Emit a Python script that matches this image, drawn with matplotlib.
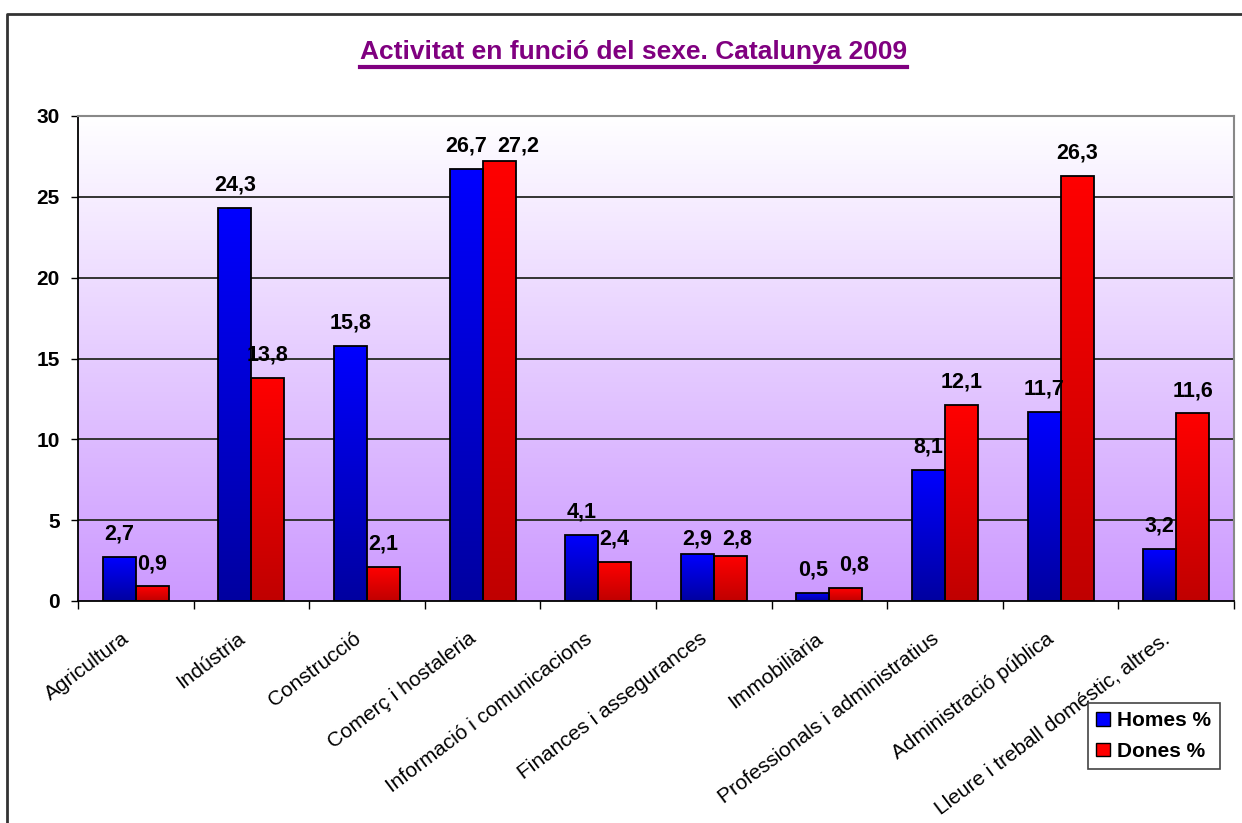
import numpy as np
import matplotlib
matplotlib.use("Agg")
import matplotlib.pyplot as plt
from matplotlib.lines import Line2D
from matplotlib.patches import Patch
from matplotlib.colors import LinearSegmentedColormap

plt.rcParams['font.family'] = ['Liberation Sans', 'DejaVu Sans']

categories = ["Agricultura", "Indústria", "Construcció", "Comerç i hostaleria",
              "Informació i comunicacions", "Finances i assegurances", "Immobiliària",
              "Professionals i administratius", "Administració pública",
              "Lleure i treball doméstic, altres."]
homes = [2.7, 24.3, 15.8, 26.7, 4.1, 2.9, 0.5, 8.1, 11.7, 3.2]
dones = [0.9, 13.8, 2.1, 27.2, 2.4, 2.8, 0.8, 12.1, 26.3, 11.6]
series_names = ["Homes %", "Dones %"]
title = "Activitat en funció del sexe. Catalunya 2009"

fig = plt.figure(figsize=(12.42, 8.23), dpi=100, facecolor="white")
ax = fig.add_axes([78/1242, 222/823, 1156/1242, 485/823])

# background gradient, white on top to lavender at bottom
bg = LinearSegmentedColormap.from_list("bg", ["#cc99ff", "#ffffff"])
grad = np.linspace(0, 1, 256).reshape(-1, 1)
ax.imshow(grad, cmap=bg, origin="lower", extent=[0, 1, 0, 1],
          transform=ax.transAxes, aspect="auto", zorder=0)

blue_cm = LinearSegmentedColormap.from_list("b", ["#0000a0", "#0000ff"])
red_cm = LinearSegmentedColormap.from_list("r", ["#c00000", "#ff0000"])

x = np.arange(len(categories))
w = 0.285

def fmt(v):
    return f"{v:.1f}".replace(".", ",")

for vals, off, cm in [(homes, -w/2, blue_cm), (dones, w/2, red_cm)]:
    bars = ax.bar(x + off, vals, width=w, color="none", edgecolor="black",
                  linewidth=1.3, zorder=3)
    for b, v in zip(bars, vals):
        x0 = b.get_x()
        img = ax.imshow(grad, cmap=cm, origin="lower", aspect="auto",
                        extent=[x0, x0 + w, 0, v], zorder=2.5)
        img.set_clip_path(b)

# value labels; when the two bars of a group are almost equal the labels
# sit on one line and the red one is nudged right so they don't collide
for i, (h, d) in enumerate(zip(homes, dones)):
    if abs(h - d) < 1.0 and min(h, d) > 1:
        yh = yd = max(h, d)
        dy = 11
        shift = 5 if max(h, d) < 10 else 14
    else:
        yh, yd, dy = h, d, 16.5
        shift = 6 if max(h, d) < 1 else 0
    ax.annotate(fmt(h), (i - w/2, yh), xytext=(0, dy), textcoords="offset points",
                ha="center", va="center", fontsize=15.5, fontweight="bold", zorder=5)
    ax.annotate(fmt(d), (i + w/2, yd), xytext=(shift, dy), textcoords="offset points",
                ha="center", va="center", fontsize=15.5, fontweight="bold", zorder=5)

ax.set_xlim(-0.5, len(categories) - 0.5)
ax.set_ylim(0, 30)
ax.set_yticks(range(0, 31, 5))
ax.set_yticklabels([str(v) for v in range(0, 31, 5)], fontsize=15, fontweight="bold")
ax.tick_params(axis="y", direction="out", length=5, width=1, pad=8)
ax.set_xticks(np.arange(-0.5, len(categories), 1))
ax.set_xticklabels([])
ax.tick_params(axis="x", direction="out", length=6, width=1)

for yv in range(5, 30, 5):
    ax.axhline(yv, color="#333333", linewidth=1.4, zorder=1)

ax.spines["left"].set_color("black")
ax.spines["bottom"].set_color("black")
ax.spines["left"].set_linewidth(1.3)
ax.spines["bottom"].set_linewidth(1.3)
ax.spines["top"].set_color("#888888")
ax.spines["right"].set_color("#888888")
ax.spines["top"].set_linewidth(1.5)
ax.spines["right"].set_linewidth(1.5)

for i, lab in enumerate(categories):
    ax.text(i - 0.125, -0.058, lab, transform=ax.get_xaxis_transform(),
            rotation=37, rotation_mode="anchor", ha="right", va="top",
            fontsize=15)

handles = [Patch(facecolor="#0000ff", edgecolor="black", label=series_names[0]),
           Patch(facecolor="#ff0000", edgecolor="black", label=series_names[1])]
leg = fig.legend(handles=handles, loc="upper left",
                 bbox_to_anchor=(1088/1242, 1 - 703/823), borderaxespad=0,
                 fancybox=False, framealpha=1, edgecolor="#444444",
                 prop={"weight": "bold", "size": 15}, handlelength=0.65,
                 handleheight=0.65, handletextpad=0.35, borderpad=0.4,
                 labelspacing=0.55)
leg.get_frame().set_linewidth(1.2)

t = fig.text(0.51, 1 - 52/823, title, ha="center", va="center", fontsize=19,
             fontweight="bold", color="#800080")

# underline the title
fig.canvas.draw()
bb = t.get_window_extent(fig.canvas.get_renderer())
uy = (bb.y0 - 3) / fig.bbox.height
fig.add_artist(Line2D([bb.x0 / fig.bbox.width, bb.x1 / fig.bbox.width], [uy, uy],
                      color="#800080", linewidth=3, transform=fig.transFigure))

# outer chart frame (left and top)
fig.add_artist(Line2D([7/1242, 7/1242, 1.0], [0.0, 1 - 14/823, 1 - 14/823],
                      color="#333333", linewidth=2, transform=fig.transFigure))

fig.savefig("out.png", dpi=100, facecolor="white")
